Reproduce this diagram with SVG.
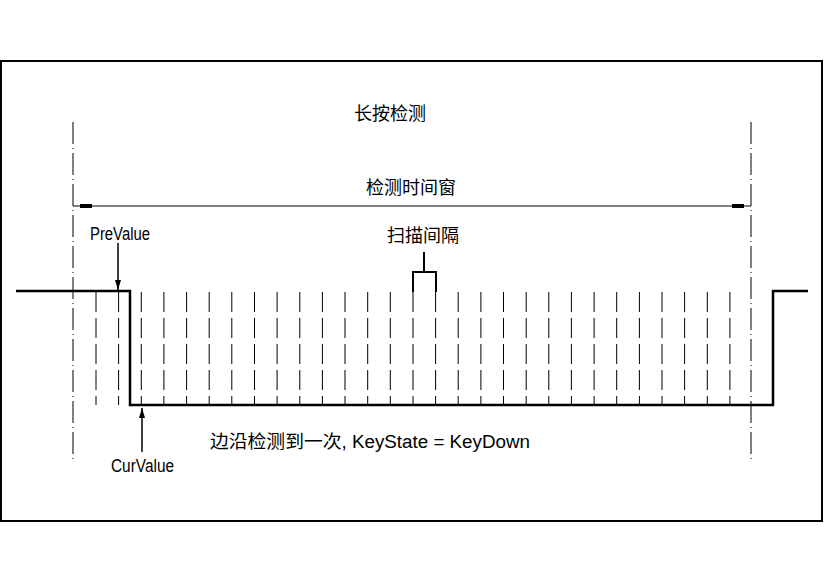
<svg xmlns="http://www.w3.org/2000/svg" width="824" height="583" viewBox="0 0 824 583">
<style>
text{font-family:"Liberation Sans","Noto Sans CJK SC",sans-serif;font-size:18px;fill:#000}
.sig{fill:none;stroke:#000;stroke-width:2.5}
.scan{stroke:#000;stroke-width:1;stroke-dasharray:20 6}
.win{stroke:#000;stroke-width:1;stroke-dasharray:22 4 1 4}
.thin{stroke:#000;stroke-width:1;fill:none}
</style>
<defs>
<marker id="ar" viewBox="0 0 10 6" refX="10" refY="3" markerWidth="10" markerHeight="6" orient="auto" markerUnits="userSpaceOnUse"><path d="M0,0L10,3L0,6z"/></marker>
</defs>
<rect x="1" y="61" width="821" height="460" fill="#fff" stroke="#000" stroke-width="2"/>
<g id="window">
<line class="win" x1="73" y1="122" x2="73" y2="463"/>
<line class="win" x1="751" y1="122" x2="751" y2="463"/>
</g>
<g id="scanlines">
<path class="scan" d="M96,292V405M118.6,292V405M141.3,292V405M163.9,292V405M186.6,292V405M209.2,292V405M231.8,292V405M254.5,292V405M277.1,292V405M299.8,292V405M322.4,292V405M345,292V405M367.7,292V405M390.3,292V405M413,292V405M435.6,292V405M458.2,292V405M480.9,292V405M503.5,292V405M526.2,292V405M548.8,292V405M571.4,292V405M594.1,292V405M616.7,292V405M639.4,292V405M662,292V405M684.6,292V405M707.3,292V405M729.9,292V405"/>
</g>
<g id="signal"><path class="sig" d="M16,291H130V405H773V291H808"/></g>
<g id="connectors">
<line class="thin" x1="73" y1="206" x2="751" y2="206"/>
<rect x="80" y="204" width="12" height="4"/>
<rect x="732" y="204" width="12" height="4"/>
<line x1="118" y1="243" x2="118" y2="290" stroke="#000" stroke-width="1.5" marker-end="url(#ar)"/>
<line x1="142" y1="452" x2="142" y2="408" stroke="#000" stroke-width="1.5" marker-end="url(#ar)"/>
<path d="M424,252V272M413,292V272H436V292" fill="none" stroke="#000" stroke-width="2"/>
</g>
<g id="labels">
<text x="390" y="120" text-anchor="middle">长按检测</text>
<text x="411" y="194" text-anchor="middle">检测时间窗</text>
<text x="423" y="242" text-anchor="middle">扫描间隔</text>
<text x="90" y="240" textLength="60" lengthAdjust="spacingAndGlyphs">PreValue</text>
<text x="111" y="472" textLength="63" lengthAdjust="spacingAndGlyphs">CurValue</text>
<text x="210" y="448" textLength="320" lengthAdjust="spacingAndGlyphs">边沿检测到一次, KeyState = KeyDown</text>
</g>
</svg>
